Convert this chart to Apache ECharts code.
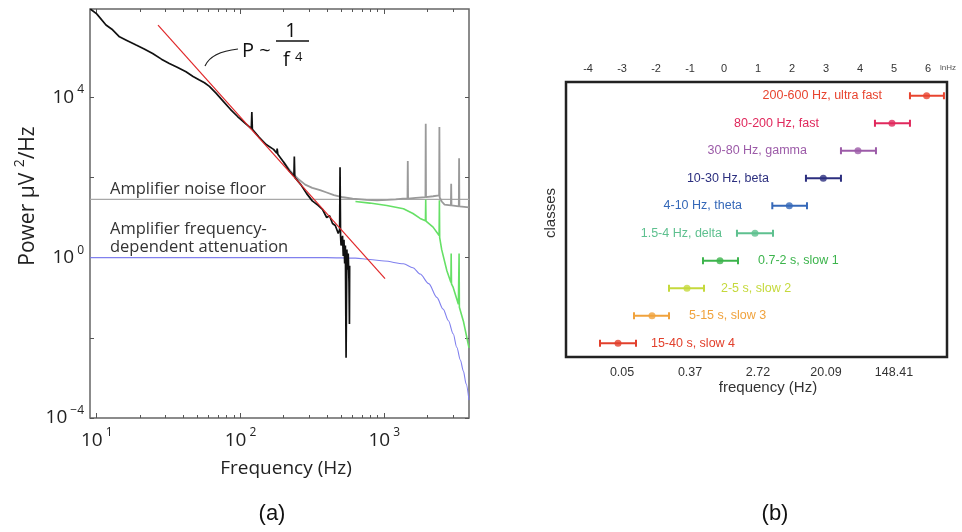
<!DOCTYPE html>
<html>
<head>
<meta charset="utf-8">
<script src="https://cdn.jsdelivr.net/npm/echarts@6/dist/echarts.min.js"></script>
<style>
html, body { margin: 0; padding: 0; background: #fff; }
#container { width: 962px; height: 532px; }
</style>
</head>
<body>
<div id="container"></div>
<script>
// ---------- (a) power spectrum : frequency in Hz, power in uV^2/Hz ----------
var blackFreq = [9.02, 10, 11.6, 12.9, 14.4, 16.2, 18.8, 21.4, 24.5, 28.2, 32.0, 36.3, 41.8, 46.8, 51.8, 56.2,
  60.8, 67.6, 76.0, 85.1, 95.5, 107, 119, 120, 121, 135, 151, 170, 179, 180, 182, 200, 219, 235.5, 237, 238.8,
  263, 288, 316, 347, 372, 398, 417, 437, 457, 479, 490, 493, 497, 501, 513, 519, 525, 531, 537, 543, 550,
  556, 562, 569, 573, 575];
var blackPow = [1.58e6, 1.2e6, 6.3e5, 4.8e5, 3.2e5, 2.6e5, 2.0e5, 1.6e5, 1.23e5, 8.9e4, 6.9e4, 5.6e4, 4.3e4,
  3.3e4, 2.7e4, 2.3e4, 1.86e4, 1.26e4, 7900, 5000, 3300, 2300, 1660, 4270, 1580, 1000, 660, 500, 400, 525, 380,
  240, 145, 107, 330, 100, 66, 40, 26, 20, 16, 10, 11, 7.1, 6.3, 4.0, 5.0, 178, 3.5, 2.0, 3.5, 1.1, 2.8, 0.71,
  2.0, 0.0032, 1.6, 0.5, 1.26, 0.25, 0.022, 0.63];

var grayFreq = [200, 224, 251, 282, 316, 358, 398, 447, 518, 603, 757, 891, 1047, 1202, 1349, 1452, 1459, 1466,
  1660, 1936, 1945, 1954, 2188, 2410, 2421, 2432, 2512, 2630, 2911, 2924, 2938, 3304, 3319, 3334, 3890];
var grayPow = [240, 141, 93, 66, 55, 48, 42, 36, 32, 29.5, 27.5, 26.9, 27.5, 28.2, 29.5, 29.5, 257, 29.5,
  30.9, 32.4, 2190, 32.4, 33.9, 35.5, 1820, 31.6, 25.1, 20.9, 20, 69, 20, 19, 302, 19, 17.8];

var greenFreq = [631, 794, 1042, 1361, 1585, 1778, 1936, 1945, 1954, 2188, 2410, 2421, 2432, 2512, 2729, 2911,
  2924, 2938, 3020, 3281, 3304, 3319, 3334, 3556, 3890];
var greenPow = [25.1, 22.9, 20, 16.6, 12.6, 9.5, 8.3, 28.2, 8.1, 5.75, 3.55, 26.9, 3.16, 1.58, 0.47, 0.24,
  1.26, 0.22, 0.18, 0.069, 0.063, 1.26, 0.058, 0.026, 0.0056];

var blueFreq = [9, 398, 631, 794, 1000, 1361, 1585, 1778, 2042, 2323, 2570, 2799, 3020, 3199, 3388, 3556, 3715, 3890];
var bluePow = [1, 1, 0.97, 0.9, 0.82, 0.7, 0.56, 0.39, 0.224, 0.102, 0.052, 0.0266, 0.0126, 0.0058, 0.0028,
  0.00148, 0.00071, 0.00028];

var floorFreq = [9, 3900];
var floorPow = [28.2, 28.2];

var fitFreq = [26.7, 1014];
var fitPow = [6.3e5, 0.3];

// tick values of panel (a)
var freqMajor = [10, 100, 1000];
var freqMinor = [20, 30, 40, 50, 60, 70, 80, 90, 200, 300, 400, 500, 600, 700, 800, 900, 2000, 3000];
var powTicks = [1e-4, 1e-2, 1, 1e2, 1e4];
var powLabels = [1e-4, 1, 1e4];

// ---------- (b) frequency classes, natural log of Hz, bottom to top ----------
var bandLabels = ['15-40 s, slow 4', '5-15 s, slow 3', '2-5 s, slow 2', '0.7-2 s, slow 1', '1.5-4 Hz, delta',
  '4-10 Hz, theta', '10-30 Hz, beta', '30-80 Hz, gamma', '80-200 Hz, fast', '200-600 Hz, ultra fast'];
var bandMean = [-3.12, -2.12, -1.09, -0.12, 0.91, 1.92, 2.92, 3.94, 4.94, 5.96];
var bandLow = [-3.65, -2.65, -1.62, -0.62, 0.38, 1.42, 2.41, 3.44, 4.44, 5.47];
var bandHigh = [-2.59, -1.62, -0.59, 0.41, 1.44, 2.44, 3.44, 4.47, 5.47, 6.47];
// where each class name is written (ln Hz)
var labelAnchor = [-2.15, -1.03, -0.09, 1.0, -0.06, 0.53, 1.32, 2.44, 2.79, 4.65];
var bandColor = ['#e2402c', '#f0a23c', '#c5d93c', '#3cb44c', '#5ec08f', '#3568b8', '#2c2f7f', '#9c5ba8',
  '#e0285c', '#e8442f'];

var lnTop = [-4, -3, -2, -1, 0, 1, 2, 3, 4, 5, 6];
var lnBottomTicks = [-4, -2, 0, 2, 4, 6];
var lnBottomLabels = [-3, -1, 1, 3, 5];

var fontA = '"Open Sans"';
var fontB = '"Liberation Sans"';

var dom = document.getElementById('container');
var myChart = echarts.init(dom, null, { renderer: 'canvas' });

function lg(arr) {
  return arr.map(function (v) { return Math.log10(v); });
}
function pairs(xs, ys) {
  var out = [];
  for (var i = 0; i < xs.length; i++) out.push([Math.log10(xs[i]), Math.log10(ys[i])]);
  return out;
}
function supLabel(v) {
  var n = Math.round(v);
  return '{b|10}{s|' + (n < 0 ? '\u2212' + (-n) : n) + '}';
}
var richSup = {
  b: { fontSize: 19, fontFamily: fontA, color: '#222', lineHeight: 27 },
  s: { fontSize: 12, fontFamily: fontA, color: '#222', verticalAlign: 'top', padding: [0, 0, 0, 3] }
};

var xMin = Math.log10(8.98), xMax = Math.log10(3890);
var yMin = -4, yMax = 6.2;

function freqAxis(pos, ticks, len, labels) {
  return {
    gridIndex: 0, type: 'value', position: pos, min: xMin, max: xMax,
    axisLine: { show: false, onZero: false },
    splitLine: { show: false },
    axisTick: { inside: true, length: len, customValues: lg(ticks), lineStyle: { color: '#555' } },
    axisLabel: labels ? { customValues: lg(labels), formatter: supLabel, margin: 9, rich: richSup } : { show: false }
  };
}
function powAxis(pos, labels) {
  return {
    gridIndex: 0, type: 'value', position: pos, min: yMin, max: yMax,
    axisLine: { show: false, onZero: false },
    splitLine: { show: false },
    axisTick: { inside: true, length: 4, customValues: lg(powTicks), lineStyle: { color: '#555' } },
    axisLabel: labels ? { customValues: lg(powLabels), formatter: supLabel, margin: 6, rich: richSup } : { show: false }
  };
}

function renderBand(params, api) {
  var i = params.dataIndex;
  var lo = api.coord([api.value(0), i]);
  var hi = api.coord([api.value(1), i]);
  var col = bandColor[i];
  var cap = 3.5;
  var st = { stroke: col, lineWidth: 2 };
  var at = api.coord([labelAnchor[i], i]);
  var after = labelAnchor[i] > bandHigh[i];
  return {
    type: 'group',
    children: [
      { type: 'line', shape: { x1: lo[0], y1: lo[1], x2: hi[0], y2: hi[1] }, style: st },
      { type: 'line', shape: { x1: lo[0], y1: lo[1] - cap, x2: lo[0], y2: lo[1] + cap }, style: st },
      { type: 'line', shape: { x1: hi[0], y1: hi[1] - cap, x2: hi[0], y2: hi[1] + cap }, style: st },
      {
        type: 'text', x: at[0], y: at[1],
        style: { text: bandLabels[i], fill: col, font: '12.5px ' + fontB, align: after ? 'left' : 'right', verticalAlign: 'middle' }
      }
    ]
  };
}

var bandData = bandLow.map(function (lo, i) { return [lo, bandHigh[i], i]; });
var meanData = bandMean.map(function (m, i) { return { value: [m, i], itemStyle: { color: bandColor[i] } }; });

var option = {
  animation: false,
  grid: [
    { left: 90, top: 9, width: 379, height: 409, show: true, borderColor: '#666', borderWidth: 1.5, outerBoundsMode: 'none' },
    { left: 566, top: 82, width: 381, height: 275, show: true, borderColor: '#222', borderWidth: 2.5, outerBoundsMode: 'none' }
  ],
  xAxis: [
    freqAxis('bottom', freqMajor, 5, freqMajor),
    freqAxis('bottom', freqMinor, 3, null),
    freqAxis('top', freqMajor, 5, null),
    freqAxis('top', freqMinor, 3, null),
    {
      gridIndex: 1, type: 'value', position: 'bottom', min: -4.65, max: 6.56,
      axisLine: { show: false, onZero: false }, splitLine: { show: false },
      axisTick: { inside: false, length: 5, customValues: lnBottomTicks, lineStyle: { color: '#333', width: 1.5 } },
      axisLabel: {
        customValues: lnBottomLabels, margin: 9, fontSize: 12.5, fontFamily: fontB, color: '#333',
        formatter: function (v) { return Math.exp(v).toFixed(2); }
      }
    },
    {
      gridIndex: 1, type: 'value', position: 'top', min: -4.65, max: 6.56,
      axisLine: { show: false, onZero: false }, splitLine: { show: false },
      axisTick: { inside: false, length: 5, customValues: lnTop, lineStyle: { color: '#333', width: 1.5 } },
      axisLabel: { customValues: lnTop, margin: 8, fontSize: 11, fontFamily: fontB, color: '#333' }
    }
  ],
  yAxis: [
    powAxis('left', true),
    powAxis('right', false),
    {
      gridIndex: 1, type: 'category', data: bandLabels,
      axisLine: { show: false }, axisTick: { show: false }, axisLabel: { show: false }, splitLine: { show: false }
    }
  ],
  series: [
    { type: 'line', xAxisIndex: 0, yAxisIndex: 0, data: pairs(floorFreq, floorPow), showSymbol: false,
      lineStyle: { color: '#a8a8a8', width: 1.3 } },
    { type: 'line', xAxisIndex: 0, yAxisIndex: 0, data: pairs(blueFreq, bluePow), showSymbol: false,
      smooth: 0.3, smoothMonotone: 'x', lineStyle: { color: '#8080ee', width: 1.1 } },
    { type: 'line', xAxisIndex: 0, yAxisIndex: 0, data: pairs(greenFreq, greenPow), showSymbol: false,
      lineStyle: { color: '#66e066', width: 1.6 } },
    { type: 'line', xAxisIndex: 0, yAxisIndex: 0, data: pairs(grayFreq, grayPow), showSymbol: false,
      lineStyle: { color: '#9a9a9a', width: 1.8 } },
    { type: 'line', xAxisIndex: 0, yAxisIndex: 0, data: pairs(blackFreq, blackPow), showSymbol: false,
      lineStyle: { color: '#111', width: 1.7 } },
    { type: 'line', xAxisIndex: 0, yAxisIndex: 0, data: pairs(fitFreq, fitPow), showSymbol: false,
      lineStyle: { color: '#e0282a', width: 1.2 } },
    { type: 'custom', xAxisIndex: 4, yAxisIndex: 2, data: bandData, renderItem: renderBand,
      encode: { x: [0, 1], y: 2 } },
    { type: 'scatter', xAxisIndex: 4, yAxisIndex: 2, data: meanData, symbolSize: 7, z: 5 }
  ],
  graphic: [
    { type: 'text', x: 28, y: 196, rotation: Math.PI / 2,
      style: { text: '{a|Power \u03bcV }{s|2}{a|/Hz}', align: 'center', verticalAlign: 'middle',
        rich: { a: { fontSize: 21, fontFamily: fontA, fill: '#222', lineHeight: 29 },
                s: { fontSize: 14, fontFamily: fontA, fill: '#222', verticalAlign: 'top' } } } },
    { type: 'text', x: 286, y: 469,
      style: { text: 'Frequency (Hz)', font: '19px ' + fontA, fill: '#222', align: 'center', verticalAlign: 'middle' } },
    { type: 'text', x: 110, y: 189,
      style: { text: 'Amplifier noise floor', font: '16.5px ' + fontA, fill: '#333', align: 'left', verticalAlign: 'middle' } },
    { type: 'text', x: 110, y: 229,
      style: { text: 'Amplifier frequency-', font: '16.5px ' + fontA, fill: '#333', align: 'left', verticalAlign: 'middle' } },
    { type: 'text', x: 110, y: 247,
      style: { text: 'dependent attenuation', font: '16.5px ' + fontA, fill: '#333', align: 'left', verticalAlign: 'middle' } },
    { type: 'text', x: 242, y: 51,
      style: { text: 'P ~', font: '20px ' + fontA, fill: '#111', align: 'left', verticalAlign: 'middle' } },
    { type: 'text', x: 291, y: 31,
      style: { text: '1', font: '20px ' + fontA, fill: '#111', align: 'center', verticalAlign: 'middle' } },
    { type: 'line', shape: { x1: 276, y1: 41, x2: 309, y2: 41 }, style: { stroke: '#111', lineWidth: 1.5 } },
    { type: 'text', x: 283, y: 60,
      style: { text: 'f', font: '20px ' + fontA, fill: '#111', align: 'left', verticalAlign: 'middle' } },
    { type: 'text', x: 295, y: 57,
      style: { text: '4', font: '13px ' + fontA, fill: '#111', align: 'left', verticalAlign: 'middle' } },
    { type: 'bezierCurve', shape: { x1: 205, y1: 66, cpx1: 211, cpy1: 52, x2: 238, y2: 49 },
      style: { stroke: '#222', lineWidth: 1.2, fill: null } },
    { type: 'text', x: 272, y: 514,
      style: { text: '(a)', font: '22px ' + fontB, fill: '#111', align: 'center', verticalAlign: 'middle' } },
    { type: 'text', x: 775, y: 514,
      style: { text: '(b)', font: '22px ' + fontB, fill: '#111', align: 'center', verticalAlign: 'middle' } },
    { type: 'text', x: 551, y: 213, rotation: Math.PI / 2,
      style: { text: 'classes', font: '15px ' + fontB, fill: '#333', align: 'center', verticalAlign: 'middle' } },
    { type: 'text', x: 768, y: 388,
      style: { text: 'frequency (Hz)', font: '15px ' + fontB, fill: '#333', align: 'center', verticalAlign: 'middle' } },
    { type: 'text', x: 940, y: 68,
      style: { text: 'lnHz', font: '8px ' + fontB, fill: '#555', align: 'left', verticalAlign: 'middle' } }
  ]
};

if (option && typeof option === 'object') {
  myChart.setOption(option);
}

window.addEventListener('resize', myChart.resize);
</script>
</body>
</html>
